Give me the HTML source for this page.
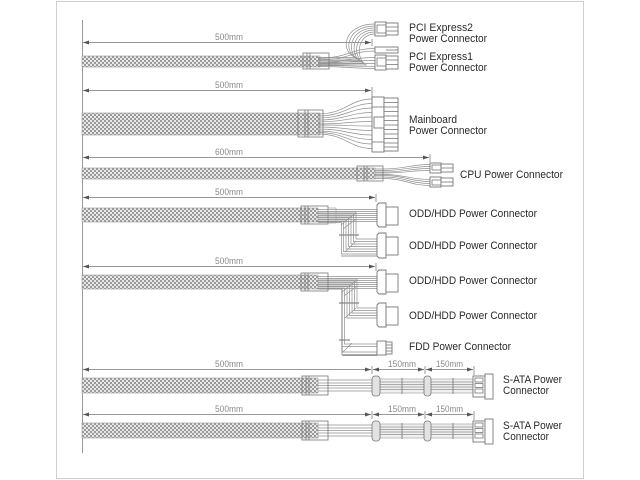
<!DOCTYPE html>
<html><head><meta charset="utf-8"><style>
html,body{margin:0;padding:0;background:#fff;}
svg{display:block;}
.t{font-family:"Liberation Sans",sans-serif;font-size:11px;fill:#2a2a2a;}
.d{font-family:"Liberation Sans",sans-serif;font-size:9px;fill:#8a8a8a;}
.ln{stroke:#999;stroke-width:1;fill:none;}
.w{stroke:#8f8f8f;stroke-width:0.7;fill:none;}
.c{stroke:#777;stroke-width:0.9;fill:#fff;}
.cn{stroke:#777;stroke-width:0.8;fill:none;}
</style></head><body>
<svg width="640" height="480" viewBox="0 0 640 480" xmlns="http://www.w3.org/2000/svg">
<defs>
<pattern id="b" width="4" height="4" patternUnits="userSpaceOnUse">
<rect width="4" height="4" fill="#e8e8e8"/>
<rect width="2" height="2" fill="#9a9a9a"/>
<rect x="2" y="2" width="2" height="2" fill="#9a9a9a"/>
</pattern>
<marker id="al" markerWidth="6" markerHeight="4" refX="0" refY="2" orient="auto" markerUnits="userSpaceOnUse"><path d="M0,2 L6,0 L6,4Z" fill="#555"/></marker>
<marker id="ar" markerWidth="6" markerHeight="4" refX="6" refY="2" orient="auto" markerUnits="userSpaceOnUse"><path d="M6,2 L0,0 L0,4Z" fill="#555"/></marker>
</defs>

<!-- frame -->
<rect x="56.5" y="1.5" width="527" height="477" fill="none" stroke="#cfcfcf" stroke-width="1"/>
<!-- left reference line -->
<line x1="82.5" y1="20" x2="82.5" y2="453" stroke="#999"/>

<!-- dimension lines -->
<g class="ln">
<line x1="83" y1="42.5" x2="371" y2="42.5" marker-start="url(#al)" marker-end="url(#ar)"/>
<line x1="372" y1="39" x2="372" y2="46"/>
<line x1="83" y1="90.5" x2="371" y2="90.5" marker-start="url(#al)" marker-end="url(#ar)"/>
<line x1="372" y1="87" x2="372" y2="97"/>
<line x1="83" y1="157.5" x2="429" y2="157.5" marker-start="url(#al)" marker-end="url(#ar)"/>
<line x1="430" y1="154" x2="430" y2="162"/>
<line x1="83" y1="197.5" x2="375" y2="197.5" marker-start="url(#al)" marker-end="url(#ar)"/>
<line x1="376" y1="194" x2="376" y2="202"/>
<line x1="83" y1="266.5" x2="375" y2="266.5" marker-start="url(#al)" marker-end="url(#ar)"/>
<line x1="376" y1="263" x2="376" y2="271"/>
<line x1="83" y1="369.5" x2="371" y2="369.5" marker-start="url(#al)" marker-end="url(#ar)"/>
<line x1="372" y1="366" x2="372" y2="374"/>
<line x1="373" y1="369.5" x2="424" y2="369.5" marker-start="url(#al)" marker-end="url(#ar)"/>
<line x1="425" y1="366" x2="425" y2="374"/>
<line x1="426" y1="369.5" x2="473" y2="369.5" marker-start="url(#al)" marker-end="url(#ar)"/>
<line x1="474" y1="366" x2="474" y2="375"/>
<line x1="83" y1="414.5" x2="371" y2="414.5" marker-start="url(#al)" marker-end="url(#ar)"/>
<line x1="372" y1="411" x2="372" y2="419"/>
<line x1="373" y1="414.5" x2="424" y2="414.5" marker-start="url(#al)" marker-end="url(#ar)"/>
<line x1="425" y1="411" x2="425" y2="419"/>
<line x1="426" y1="414.5" x2="473" y2="414.5" marker-start="url(#al)" marker-end="url(#ar)"/>
<line x1="474" y1="411" x2="474" y2="420"/>
</g>
<g class="d">
<text x="215" y="40" textLength="28" lengthAdjust="spacingAndGlyphs">500mm</text>
<text x="215" y="88" textLength="28" lengthAdjust="spacingAndGlyphs">500mm</text>
<text x="215" y="155" textLength="28" lengthAdjust="spacingAndGlyphs">600mm</text>
<text x="215" y="195" textLength="28" lengthAdjust="spacingAndGlyphs">500mm</text>
<text x="215" y="264" textLength="28" lengthAdjust="spacingAndGlyphs">500mm</text>
<text x="215" y="367" textLength="28" lengthAdjust="spacingAndGlyphs">500mm</text>
<text x="388" y="367" textLength="28" lengthAdjust="spacingAndGlyphs">150mm</text>
<text x="436" y="367" textLength="27" lengthAdjust="spacingAndGlyphs">150mm</text>
<text x="215" y="412" textLength="28" lengthAdjust="spacingAndGlyphs">500mm</text>
<text x="388" y="412" textLength="28" lengthAdjust="spacingAndGlyphs">150mm</text>
<text x="436" y="412" textLength="27" lengthAdjust="spacingAndGlyphs">150mm</text>
</g>

<!-- ===== Row 1 PCIe ===== -->
<rect x="82" y="56" width="238" height="11" fill="url(#b)" stroke="#999" stroke-width="0.6"/>
<g class="w">
<path d="M318 57.5 H356 C340 53 342 24 375 24"/>
<path d="M318 59 H358 C343 54 345 26 375 26"/>
<path d="M318 60.5 H360 C346 55 348 28 375 28"/>
<path d="M318 62 H362 C349 56 351 30 375 30"/>
<path d="M318 63.5 H364 C352 57 354 32 375 32"/>
<path d="M318 65 H366 C355 58 357 34 375 34"/>
<path d="M318 58 C350 58 350 48.5 375 48.5"/>
<path d="M318 60 C350 60 350 51 375 51"/>
<path d="M318 62 C350 62 350 57.5 375 57.5"/>
<path d="M318 63 C350 63 350 60.5 375 60.5"/>
<path d="M318 64 C350 64 350 63.5 375 63.5"/>
<path d="M318 65.5 C350 65.5 350 66.5 375 66.5"/>
<path d="M318 66.5 C350 66.5 350 68.5 375 68.5"/>
</g>
<rect x="303" y="53" width="26" height="16" class="cn"/>
<line x1="307" y1="53" x2="307" y2="69" class="cn"/>
<line x1="310" y1="53" x2="310" y2="69" class="cn"/>
<!-- PCIe2 connector -->
<rect x="375" y="22" width="11" height="14" class="c"/>
<rect x="377" y="25" width="9" height="8" class="cn"/>
<rect x="386" y="23" width="12" height="12" class="c"/>
<line x1="386" y1="27" x2="398" y2="27" class="cn"/>
<line x1="386" y1="31" x2="398" y2="31" class="cn"/>
<!-- PCIe1 connector -->
<rect x="375" y="47" width="23" height="6" class="c"/>
<line x1="386" y1="50" x2="398" y2="50" class="cn"/>
<rect x="375" y="55" width="11" height="15" class="c"/>
<rect x="377" y="58" width="9" height="8" class="cn"/>
<rect x="386" y="56" width="12" height="13" class="c"/>
<line x1="386" y1="60" x2="398" y2="60" class="cn"/>
<line x1="386" y1="64.5" x2="398" y2="64.5" class="cn"/>
<text class="t" x="409" y="31" textLength="64" lengthAdjust="spacingAndGlyphs">PCI Express2</text>
<text class="t" x="409" y="42" textLength="78" lengthAdjust="spacingAndGlyphs">Power Connector</text>
<text class="t" x="409" y="60" textLength="64" lengthAdjust="spacingAndGlyphs">PCI Express1</text>
<text class="t" x="409" y="71" textLength="78" lengthAdjust="spacingAndGlyphs">Power Connector</text>

<!-- ===== Row 2 Mainboard ===== -->
<rect x="82" y="113" width="238" height="22" fill="url(#b)" stroke="#999" stroke-width="0.6"/>
<g class="w">
<path d="M318 114 C345 114 350 99 372 99"/>
<path d="M318 116 C345 116 350 103.5 372 103.5"/>
<path d="M318 118 C345 118 350 108 372 108"/>
<path d="M318 120 C345 120 350 112.5 372 112.5"/>
<path d="M318 122 C345 122 350 117 372 117"/>
<path d="M318 124 C345 124 350 121.5 372 121.5"/>
<path d="M318 125 C345 125 350 126 372 126"/>
<path d="M318 127 C345 127 350 130.5 372 130.5"/>
<path d="M318 129 C345 129 350 135 372 135"/>
<path d="M318 131 C345 131 350 139.5 372 139.5"/>
<path d="M318 132.5 C345 132.5 350 144 372 144"/>
<path d="M318 134 C345 134 350 148.5 372 148.5"/>
</g>
<rect x="298" y="110" width="25" height="27" class="cn"/>
<line x1="305" y1="110" x2="305" y2="137" class="cn"/>
<line x1="308" y1="110" x2="308" y2="137" class="cn"/>
<rect x="372" y="97" width="12" height="55" class="c"/>
<line x1="372" y1="107" x2="384" y2="107" class="cn"/>
<line x1="372" y1="142" x2="384" y2="142" class="cn"/>
<rect x="374" y="117" width="13" height="11" class="c"/>
<rect x="384" y="98" width="14" height="53" class="c"/>
<g class="cn">
<line x1="384" y1="102.5" x2="398" y2="102.5"/>
<line x1="384" y1="107" x2="398" y2="107"/>
<line x1="384" y1="111.5" x2="398" y2="111.5"/>
<line x1="384" y1="116" x2="398" y2="116"/>
<line x1="384" y1="120.5" x2="398" y2="120.5"/>
<line x1="384" y1="125" x2="398" y2="125"/>
<line x1="384" y1="129.5" x2="398" y2="129.5"/>
<line x1="384" y1="134" x2="398" y2="134"/>
<line x1="384" y1="138.5" x2="398" y2="138.5"/>
<line x1="384" y1="143" x2="398" y2="143"/>
<line x1="384" y1="147" x2="398" y2="147"/>
</g>
<text class="t" x="409" y="123" textLength="48" lengthAdjust="spacingAndGlyphs">Mainboard</text>
<text class="t" x="409" y="134" textLength="78" lengthAdjust="spacingAndGlyphs">Power Connector</text>

<!-- ===== Row 3 CPU ===== -->
<rect x="82" y="168" width="293" height="11" fill="url(#b)" stroke="#999" stroke-width="0.6"/>
<g class="w">
<path d="M375 169 H383 C405 169 410 164.5 430 164.5"/>
<path d="M375 170.5 H383 C405 170.5 410 166.5 430 166.5"/>
<path d="M375 172 H383 C405 172 410 168.5 430 168.5"/>
<path d="M375 173 H383 C405 173 410 170.5 430 170.5"/>
<path d="M375 174.5 H383 C405 174.5 410 179.5 430 179.5"/>
<path d="M375 175.5 H383 C405 175.5 410 181.5 430 181.5"/>
<path d="M375 177 H383 C405 177 410 183.5 430 183.5"/>
<path d="M375 178.5 H383 C405 178.5 410 185.5 430 185.5"/>
</g>
<rect x="357" y="166" width="26" height="15" class="cn"/>
<line x1="364" y1="166" x2="364" y2="181" class="cn"/>
<line x1="367" y1="166" x2="367" y2="181" class="cn"/>
<rect x="430" y="163" width="11" height="10" class="c"/>
<rect x="432" y="165" width="9" height="5" class="cn"/>
<rect x="441" y="164" width="12" height="8" class="c"/>
<line x1="441" y1="168" x2="453" y2="168" class="cn"/>
<rect x="430" y="177" width="11" height="10" class="c"/>
<rect x="432" y="180" width="9" height="5" class="cn"/>
<rect x="441" y="178" width="12" height="8" class="c"/>
<line x1="441" y1="182" x2="453" y2="182" class="cn"/>
<text class="t" x="460" y="178" textLength="103" lengthAdjust="spacingAndGlyphs">CPU Power Connector</text>

<!-- ===== Row 4 ODD/HDD x2 ===== -->
<rect x="82" y="208" width="236" height="14" fill="url(#b)" stroke="#999" stroke-width="0.6"/>
<g class="w">
<line x1="318" y1="209.5" x2="377" y2="209.5"/>
<line x1="318" y1="211.5" x2="377" y2="211.5"/>
<line x1="318" y1="213.5" x2="377" y2="213.5"/>
<line x1="318" y1="215.5" x2="377" y2="215.5"/>
<line x1="318" y1="217.5" x2="377" y2="217.5"/>
<line x1="318" y1="219.5" x2="377" y2="219.5"/>
<line x1="318" y1="221.5" x2="377" y2="221.5"/>
<path d="M318 212 H356 V239 H377"/>
<path d="M318 214 H353.5 V241.5 H377"/>
<path d="M318 216 H351 V244 H377"/>
<path d="M318 218 H348.5 V246.5 H377"/>
<path d="M318 220 H346 V249 H377"/>
<path d="M318 221.5 H343.5 V251.5 H377"/>
<path d="M318 222.5 H341.5 V254 H377"/>
<line x1="341" y1="225" x2="356" y2="213" />
<line x1="343" y1="229" x2="356" y2="219" />
<line x1="345" y1="252" x2="356" y2="241" />
</g>
<line x1="339" y1="235" x2="359" y2="235" stroke="#888" stroke-width="1.2"/>
<line x1="341" y1="256" x2="377" y2="256" class="cn"/>
<rect x="301" y="206" width="27" height="18" class="cn"/>
<line x1="305" y1="206" x2="305" y2="224" class="cn"/>
<line x1="308" y1="206" x2="308" y2="224" class="cn"/>
<rect x="328" y="208" width="8" height="15" fill="none" stroke="#999" stroke-width="0.6"/>
<!-- connectors -->
<path d="M377 205 L379 203 L386 203 L386 227 L379 227 L377 225 Z" class="c"/>
<rect x="386" y="207" width="12" height="18" class="c"/>
<path d="M377 235 L379 233 L386 233 L386 258 L379 258 L377 256 Z" class="c"/>
<rect x="386" y="237" width="12" height="18" class="c"/>
<text class="t" x="409" y="217" textLength="128" lengthAdjust="spacingAndGlyphs">ODD/HDD Power Connector</text>
<text class="t" x="409" y="249" textLength="128" lengthAdjust="spacingAndGlyphs">ODD/HDD Power Connector</text>

<!-- ===== Row 5 ODD/HDD x2 + FDD ===== -->
<rect x="82" y="275" width="236" height="14" fill="url(#b)" stroke="#999" stroke-width="0.6"/>
<g class="w">
<line x1="318" y1="276.5" x2="377" y2="276.5"/>
<line x1="318" y1="278.5" x2="377" y2="278.5"/>
<line x1="318" y1="280.5" x2="377" y2="280.5"/>
<line x1="318" y1="282.5" x2="377" y2="282.5"/>
<line x1="318" y1="284.5" x2="377" y2="284.5"/>
<line x1="318" y1="286.5" x2="377" y2="286.5"/>
<line x1="318" y1="288.5" x2="377" y2="288.5"/>
<path d="M318 279 H357 V308 H377"/>
<path d="M318 281 H354.5 V310.5 H377"/>
<path d="M318 283 H352 V313 H377"/>
<path d="M318 285 H349.5 V315.5 H377"/>
<path d="M318 286.5 H347 V318 H377"/>
<path d="M318 288 H344.5 V344 H377"/>
<path d="M318 289 H342 V346.5 H377"/>
<path d="M318 289 H342 V352 H377"/>
<line x1="343" y1="354.5" x2="377" y2="354.5"/>
<line x1="342" y1="292" x2="357" y2="280" />
<line x1="344" y1="296" x2="357" y2="286" />
<line x1="345" y1="318" x2="356" y2="308" />
<line x1="343" y1="352" x2="352" y2="343" />
</g>
<line x1="339" y1="303" x2="359" y2="303" stroke="#888" stroke-width="1.2"/>
<line x1="339" y1="340" x2="350" y2="340" stroke="#888" stroke-width="1.2"/>
<line x1="342" y1="289" x2="342" y2="355" class="cn"/>
<line x1="342" y1="355.5" x2="377" y2="355.5" class="cn"/>
<rect x="301" y="273" width="27" height="18" class="cn"/>
<line x1="305" y1="273" x2="305" y2="291" class="cn"/>
<line x1="308" y1="273" x2="308" y2="291" class="cn"/>
<path d="M377 272 L379 270 L386 270 L386 294 L379 294 L377 292 Z" class="c"/>
<rect x="386" y="274" width="12" height="18" class="c"/>
<path d="M377 305 L379 303 L386 303 L386 327 L379 327 L377 325 Z" class="c"/>
<rect x="386" y="307" width="12" height="18" class="c"/>
<rect x="377" y="341" width="9" height="14" class="c"/>
<rect x="386" y="342" width="6" height="12" class="c"/>
<line x1="386" y1="345" x2="392" y2="345" class="cn"/>
<line x1="386" y1="348" x2="392" y2="348" class="cn"/>
<line x1="386" y1="351" x2="392" y2="351" class="cn"/>
<text class="t" x="409" y="284" textLength="128" lengthAdjust="spacingAndGlyphs">ODD/HDD Power Connector</text>
<text class="t" x="409" y="319" textLength="128" lengthAdjust="spacingAndGlyphs">ODD/HDD Power Connector</text>
<text class="t" x="409" y="350" textLength="102" lengthAdjust="spacingAndGlyphs">FDD Power Connector</text>

<!-- ===== Row 6 & 7 SATA ===== -->
<g id="sata">
<rect x="82" y="378" width="236" height="15" fill="url(#b)" stroke="#999" stroke-width="0.6"/>
<g class="w">
<line x1="318" y1="380" x2="372" y2="380"/>
<line x1="318" y1="383" x2="372" y2="383"/>
<line x1="318" y1="385.5" x2="372" y2="385.5"/>
<line x1="318" y1="388" x2="372" y2="388"/>
<line x1="318" y1="391" x2="372" y2="391"/>
</g>
<rect x="302" y="376" width="26" height="19" class="cn"/>
<line x1="306" y1="376" x2="306" y2="395" class="cn"/>
<line x1="309" y1="376" x2="309" y2="395" class="cn"/>
<rect x="380" y="379" width="44" height="14" fill="#f0f0f0" stroke="#999" stroke-width="0.6"/>
<rect x="430" y="379" width="43" height="14" fill="#f0f0f0" stroke="#999" stroke-width="0.6"/>
<g class="w">
<line x1="380" y1="382" x2="473" y2="382"/>
<line x1="380" y1="384.5" x2="473" y2="384.5"/>
<line x1="380" y1="387" x2="473" y2="387"/>
<line x1="380" y1="389.5" x2="473" y2="389.5"/>
</g>
<line x1="402" y1="378" x2="402" y2="394" stroke="#888" stroke-width="1"/>
<line x1="453" y1="378" x2="453" y2="394" stroke="#888" stroke-width="1"/>
<rect x="372" y="376" width="8" height="20" rx="3" fill="#e2e2e2" stroke="#777" stroke-width="0.8"/>
<rect x="424" y="376" width="7" height="20" rx="3" fill="#e2e2e2" stroke="#777" stroke-width="0.8"/>
<rect x="473" y="376" width="12" height="21" class="c"/>
<rect x="475" y="378" width="8" height="4" class="cn"/>
<rect x="475" y="383.5" width="8" height="4" class="cn"/>
<rect x="475" y="389" width="8" height="4" class="cn"/>
<rect x="485" y="374" width="8" height="25" class="c"/>
</g>
<use href="#sata" transform="translate(0,45)"/>
<text class="t" x="503" y="383" textLength="59" lengthAdjust="spacingAndGlyphs">S-ATA Power</text>
<text class="t" x="503" y="394" textLength="46" lengthAdjust="spacingAndGlyphs">Connector</text>
<text class="t" x="503" y="429" textLength="59" lengthAdjust="spacingAndGlyphs">S-ATA Power</text>
<text class="t" x="503" y="440" textLength="46" lengthAdjust="spacingAndGlyphs">Connector</text>
</svg>
</body></html>
